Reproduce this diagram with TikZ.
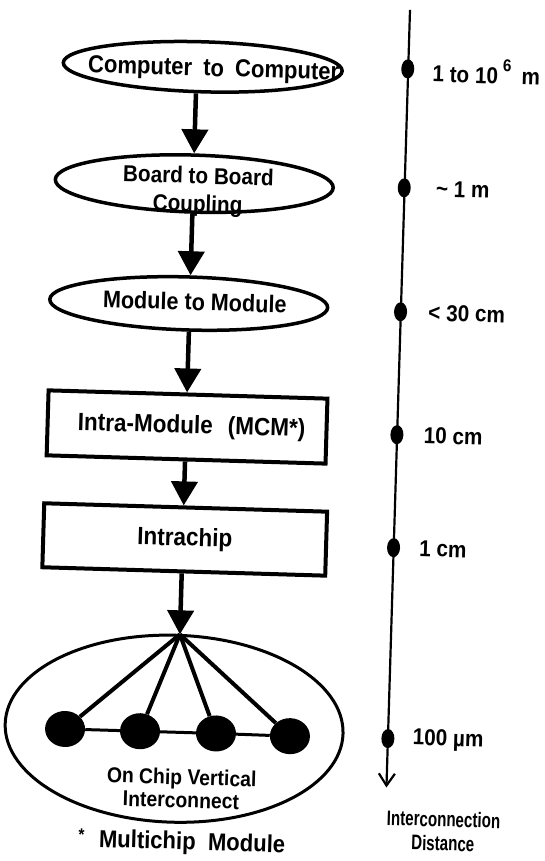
\documentclass[tikz,border=0pt]{standalone}
\usepackage{fontspec}
\setmainfont[FakeStretch=0.9]{Liberation Sans}
\newfontfamily\narrowsans[FakeStretch=0.72]{Liberation Sans}
\usetikzlibrary{positioning,shapes,arrows.meta}

\begin{document}
\begin{tikzpicture}[
    x=1pt, y=-1pt,
    flowoval/.style={draw, ellipse, line width=3.5pt, inner sep=0pt},
    ovaltext/.style={font=\fontsize{23}{28}\selectfont\bfseries, align=center, inner sep=0pt},
    flowbox/.style={draw, rectangle, line width=4pt, inner sep=0pt, font=\fontsize{25}{30}\selectfont\bfseries},
    flow/.style={line width=4.5pt, -{Triangle[width=26pt,length=24pt]}},
    chipdot/.style={ellipse, fill=black, minimum width=40pt, minimum height=36pt, inner sep=0pt},
    axisdot/.style={ellipse, fill=black, minimum width=13pt, minimum height=19pt, inner sep=0pt},
    distlabel/.style={inner sep=0pt, font=\fontsize{23}{27}\selectfont\bfseries}
]
\useasboundingbox (0,0) rectangle (544,861);

\begin{scope}[rotate around={-1.7:(272,430)}, transform shape]
% flow of interconnect levels
\coordinate (hub) at (186,637);
\node[flowoval, minimum width=279pt, minimum height=50pt,
      label={[ovaltext, font=\fontsize{24.5}{28}\selectfont\bfseries, xshift=11pt, yshift=-3pt]center:Computer\hspace{0.45em}to\hspace{0.45em}Computer}] (comp) at (192,69) {};
\node[flowoval, minimum width=278pt, minimum height=57pt,
      label={[ovaltext, yshift=-8pt, xshift=4pt]center:{Board to Board\\Coupling}}] (board) at (187,186) {};
\node[flowoval, minimum width=278pt, minimum height=53pt,
      label={[ovaltext, font=\fontsize{24}{28}\selectfont\bfseries, xshift=6pt, yshift=2pt]center:Module to Module}] (module) at (185,306) {};
\node[flowbox, minimum width=279pt, minimum height=65pt] (mcm) at (187,429.5) {\hspace{9pt}Intra-Module\hspace{0.6em}(MCM*)};
\node[flowbox, minimum width=283pt, minimum height=64pt] (chip) at (188,542) {Intrachip};

\draw[flow] (comp.south -| hub) -- (board.north -| hub);
\draw[flow] (board.south -| hub) -- (module.north -| hub);
\draw[flow] (module.south -| hub) -- (mcm.north -| hub);
\draw[flow] (mcm.south -| hub) -- (chip.north -| hub);
\draw[flow] (chip.south -| hub) -- (hub);

% on chip vertical interconnect
\node[draw, ellipse, line width=3pt, minimum width=338pt, minimum height=187pt] (vchip) at (183,731.5) {};
\node[chipdot] (d1) at (74,735) {};
\node[chipdot] (d2) at (149,735) {};
\node[chipdot] (d3) at (225,735) {};
\node[chipdot] (d4) at (299,735.5) {};
\foreach \d in {d1,d2,d3,d4}
    \draw[line width=4pt] (hub) -- (\d);
\draw[line width=3pt] (d1) -- (d2) -- (d3) -- (d4);
\node[ovaltext, font=\fontsize{21.5}{23}\selectfont\bfseries] (vtext) at (192,791) {On Chip Vertical\\Interconnect};

\node[ovaltext, font=\fontsize{24.5}{28}\selectfont\bfseries, anchor=base] (note) at (194,852)
    {{\fontsize{17}{17}\selectfont\raisebox{0.35em}{*}}\hspace{0.6em}Multichip\hspace{0.5em}Module};

% distance axis
\coordinate (atop) at (397.5,6);
\coordinate (abot) at (397,784);
\draw[line width=2.2pt, -{Straight Barb[length=12pt,width=16pt]}] (atop) -- (abot);
\node[axisdot] (t1) at (397,65) {};
\node[axisdot] (t2) at (397,184) {};
\node[axisdot] (t3) at (397,308) {};
\node[axisdot] (t4) at (397,431) {};
\node[axisdot] (t5) at (397,544) {};
\node[axisdot] (t6) at (397,735) {};
\node[distlabel, right=18pt of t1] (l1) {1 to 10\hspace{0.2em}\raisebox{0.55em}{\fontsize{17}{17}\selectfont 6}\hspace{0.45em}m};
\node[distlabel, right=25pt of t2] (l2) {\textasciitilde\ 1 m};
\node[distlabel, right=21pt of t3] (l3) {< 30 cm};
\node[distlabel, right=20pt of t4] (l4) {10 cm};
\node[distlabel, right=19pt of t5] (l5) {1 cm};
\node[distlabel, right=18pt of t6] (l6) {100 µm};
\node[align=center, inner sep=0pt, font=\narrowsans\fontsize{21}{24}\selectfont\bfseries] (axname) at (455,826) {Interconnection\\Distance};
\end{scope}
\end{tikzpicture}
\end{document}
